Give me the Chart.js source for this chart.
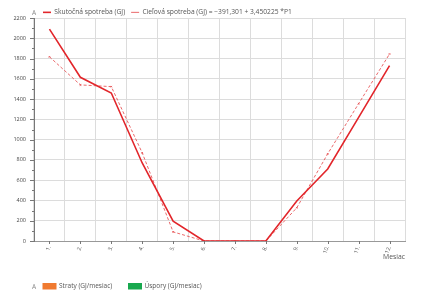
<!DOCTYPE html>
<html>
<head>
<meta charset="utf-8">
<script src="https://cdn.jsdelivr.net/npm/chart.js@4"></script>
<style>
  html, body { margin: 0; padding: 0; background: #fff; }
</style>
</head>
<body>
<canvas id="chart" width="438" height="292"></canvas>
<script>
const months = ['1.', '2.', '3.', '4.', '5.', '6.', '7.', '8.', '9.', '10.', '11.', '12.'];
const actual = [2090, 1615, 1460, 770, 195, 0, 0, 0, 395, 710, 1220, 1730];
const target = [1817, 1540, 1523, 870, 90, 0, 0, 0, 328, 860, 1355, 1845];
const yTicks = [0, 200, 400, 600, 800, 1000, 1200, 1400, 1600, 1800, 2000, 2200];
const lossLabels = ['Straty (GJ/mesiac)', 'Úspory (GJ/mesiac)'];
const lossColors = ['#f07a30', '#18a84e'];

const ctx = document.getElementById('chart').getContext('2d');
const FONT = '"Open Sans", sans-serif';

// legend: fixed height, starts next to the y axis
const legendPlace = {
    id: 'legendPlace',
    afterInit(chart) {
        const lg = chart.legend;
        const fit = lg.fit;
        lg.fit = function () {
            fit.call(this);
            this.height = 15;
        };
    },
    afterLayout(chart) {
        chart.legend.left = 37;
    }
};

// small marks: x ticks at category centres, minor y ticks, "A" icons, bottom legend
const extraMarks = {
    id: 'extraMarks',
    afterDraw(chart) {
        const c = chart.ctx;
        const x = chart.scales.x, y = chart.scales.y;
        c.save();
        c.strokeStyle = '#777';
        c.lineWidth = 1;
        c.beginPath();
        months.forEach((m, i) => {
            const px = Math.round(x.getPixelForValue(i)) + 0.5;
            c.moveTo(px, y.bottom);
            c.lineTo(px, y.bottom + 3);
        });
        for (let v = 0; v <= 2200; v += 100) {
            const py = Math.round(y.getPixelForValue(v)) + 0.5;
            c.moveTo(x.left - (v % 200 === 0 ? 4 : 2), py);
            c.lineTo(x.left, py);
        }
        c.stroke();

        c.textBaseline = 'middle';
        c.fillStyle = '#888';
        c.font = '6.5px ' + FONT;
        c.fillText('A', 32, 13);
        c.fillText('A', 32, 287);

        // bottom legend (no data in this chart)
        const boxX = [42.5, 128];
        c.font = '6.5px ' + FONT;
        lossLabels.forEach((t, i) => {
            c.fillStyle = lossColors[i];
            c.fillRect(boxX[i], 283, 14, 6.5);
            c.fillStyle = '#555';
            c.fillText(t, boxX[i] + 16.5, 286.5);
        });
        c.restore();
    }
};

new Chart(ctx, {
    type: 'line',
    data: {
        labels: months,
        datasets: [{
            label: 'Skutočná spotreba (GJ)',
            data: actual,
            borderColor: '#e2262b',
            backgroundColor: '#e2262b',
            borderWidth: 1.6,
            pointRadius: 0,
            tension: 0
        }, {
            label: 'Cieľová spotreba (GJ) = −391,301 + 3,450225 *P1',
            data: target,
            borderColor: '#e8585a',
            backgroundColor: '#e8585a',
            borderWidth: 0.9,
            borderDash: [3, 2],
            pointRadius: 1,
            pointStyle: 'crossRot',
            tension: 0
        }]
    },
    options: {
        responsive: false,
        animation: false,
        layout: { padding: { left: 4, right: 33, top: 3, bottom: 30 } },
        plugins: {
            tooltip: { enabled: false },
            legend: {
                position: 'top',
                align: 'start',
                labels: {
                    usePointStyle: true,
                    pointStyle: 'line',
                    pointStyleWidth: 8,
                    boxWidth: 8,
                    padding: 6,
                    color: '#555',
                    font: { family: 'Open Sans', size: 6.7 }
                }
            }
        },
        scales: {
            x: {
                offset: true,
                afterFit: (s) => { s.height = 21; },
                grid: { offset: true, color: '#dcdcdc', drawTicks: false },
                border: { color: '#999' },
                ticks: {
                    color: '#555',
                    font: { family: 'Open Sans', size: 5.5 },
                    minRotation: 70,
                    maxRotation: 70,
                    padding: 4
                },
                title: {
                    display: true,
                    text: 'Mesiac',
                    align: 'end',
                    color: '#555',
                    font: { family: 'Open Sans', size: 6.8 },
                    padding: { top: 0, bottom: 1 }
                }
            },
            y: {
                min: 0,
                max: 2200,
                afterBuildTicks: (s) => { s.ticks = yTicks.map(v => ({ value: v })); },
                afterFit: (s) => { s.width = 30; },
                grid: { color: '#dcdcdc', drawTicks: false },
                border: { color: '#777' },
                ticks: {
                    color: '#444',
                    font: { family: 'Open Sans', size: 5.5 },
                    padding: 8,
                    callback: (v) => String(v)
                }
            }
        }
    },
    plugins: [legendPlace, extraMarks]
});
</script>
</body>
</html>
